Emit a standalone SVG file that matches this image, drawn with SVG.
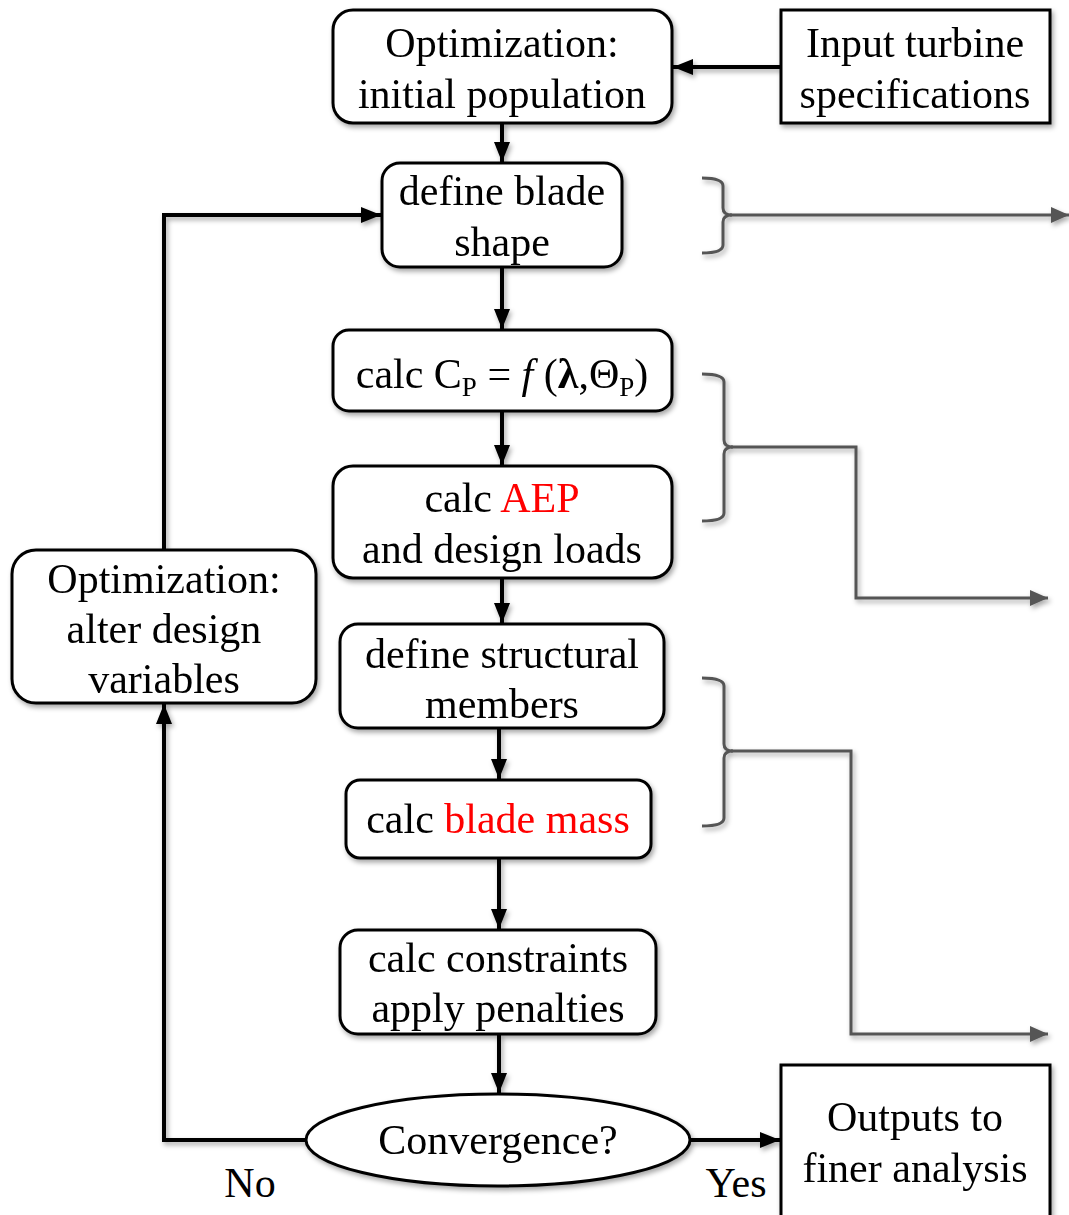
<svg xmlns="http://www.w3.org/2000/svg" width="1069" height="1215" viewBox="0 0 1069 1215">
<style>
  .box { fill: #fff; stroke: #000; stroke-width: 3; }
  .t { font-family: "Liberation Serif", "Times New Roman", serif; font-size: 42px; fill: #000; text-anchor: middle; }
  .red { fill: #ff0000; }
  .sub { font-size: 27px; }
  .conn { fill: none; stroke: #000; stroke-width: 4; }
  .brace { fill: none; stroke: #555; stroke-width: 3; }
</style>
<defs>
  <filter id="sh" x="-10%" y="-10%" width="130%" height="140%">
    <feDropShadow dx="2" dy="3" stdDeviation="2.5" flood-color="#000" flood-opacity="0.35"/>
  </filter>
  <marker id="ah" markerUnits="userSpaceOnUse" markerWidth="22" markerHeight="20" refX="20" refY="10" orient="auto">
    <path d="M0,2 L20,10 L0,18 Z" fill="#000"/>
  </marker>
  <marker id="ahg" markerUnits="userSpaceOnUse" markerWidth="20" markerHeight="18" refX="18" refY="9" orient="auto">
    <path d="M0,1 L18,9 L0,17 Z" fill="#555"/>
  </marker>
</defs>
<rect width="1069" height="1215" fill="#fff"/>

<g id="connectors" filter="url(#sh)">
  <path class="conn" d="M781,67 L673,67" marker-end="url(#ah)"/>
  <path class="conn" d="M502,123 L502,162" marker-end="url(#ah)"/>
  <path class="conn" d="M502,267 L502,329" marker-end="url(#ah)"/>
  <path class="conn" d="M502,411 L502,465" marker-end="url(#ah)"/>
  <path class="conn" d="M502,578 L502,623" marker-end="url(#ah)"/>
  <path class="conn" d="M499,728 L499,779" marker-end="url(#ah)"/>
  <path class="conn" d="M499,858 L499,929" marker-end="url(#ah)"/>
  <path class="conn" d="M499,1034 L499,1093" marker-end="url(#ah)"/>
  <path class="conn" d="M306,1140 L164,1140 L164,704" marker-end="url(#ah)"/>
  <path class="conn" d="M164,550 L164,215 L381,215" marker-end="url(#ah)"/>
  <path class="conn" d="M690,1140 L780,1140" marker-end="url(#ah)"/>
  <path class="brace" d="M702,178 Q723,178 723,186 L723,208 Q723,215 732,215 Q723,215 723,222 L723,245 Q723,253 702,253"/>
  <path class="brace" d="M730,215 L1069,215" marker-end="url(#ahg)"/>
  <path class="brace" d="M702,374 Q724,374 724,382 L724,440 Q724,447 733,447 Q724,447 724,454 L724,513 Q724,521 702,521"/>
  <path class="brace" d="M731,447 L856,447 L856,598 L1048,598" marker-end="url(#ahg)"/>
  <path class="brace" d="M702,678 Q724,678 724,686 L724,744 Q724,751 733,751 Q724,751 724,758 L724,818 Q724,826 702,826"/>
  <path class="brace" d="M731,751 L851,751 L851,1034 L1048,1034" marker-end="url(#ahg)"/>
</g>

<g id="n-init" filter="url(#sh)">
  <rect class="box" x="333" y="10" width="339" height="113" rx="20"/>
  <text class="t" x="502" y="57">Optimization:</text>
  <text class="t" x="502" y="108">initial population</text>
</g>
<g id="n-input" filter="url(#sh)">
  <rect class="box" x="781" y="10" width="269" height="113"/>
  <text class="t" x="915" y="57">Input turbine</text>
  <text class="t" x="915" y="108">specifications</text>
</g>
<g id="n-shape" filter="url(#sh)">
  <rect class="box" x="382" y="163" width="240" height="104" rx="18"/>
  <text class="t" x="502" y="205">define blade</text>
  <text class="t" x="502" y="256">shape</text>
</g>
<g id="n-cp" filter="url(#sh)">
  <rect class="box" x="333" y="330" width="339" height="81" rx="16"/>
  <text class="t" x="502" y="388">calc C<tspan class="sub" dy="8">P</tspan><tspan dy="-8"> = </tspan><tspan font-style="italic">f</tspan> (<tspan font-weight="bold">λ</tspan>,Θ<tspan class="sub" dy="8">P</tspan><tspan dy="-8">)</tspan></text>
</g>
<g id="n-aep" filter="url(#sh)">
  <rect class="box" x="333" y="466" width="339" height="112" rx="20"/>
  <text class="t" x="502" y="512">calc <tspan class="red">AEP</tspan></text>
  <text class="t" x="502" y="563">and design loads</text>
</g>
<g id="n-struct" filter="url(#sh)">
  <rect class="box" x="340" y="624" width="324" height="104" rx="18"/>
  <text class="t" x="502" y="668">define structural</text>
  <text class="t" x="502" y="718">members</text>
</g>
<g id="n-mass" filter="url(#sh)">
  <rect class="box" x="346" y="780" width="305" height="78" rx="14"/>
  <text class="t" x="498" y="833">calc <tspan class="red">blade mass</tspan></text>
</g>
<g id="n-constr" filter="url(#sh)">
  <rect class="box" x="340" y="930" width="316" height="104" rx="18"/>
  <text class="t" x="498" y="972">calc constraints</text>
  <text class="t" x="498" y="1022">apply penalties</text>
</g>
<g id="n-conv" filter="url(#sh)">
  <ellipse class="box" cx="498" cy="1140" rx="192" ry="46"/>
  <text class="t" x="498" y="1154">Convergence?</text>
</g>
<g id="n-alter" filter="url(#sh)">
  <rect class="box" x="12" y="550" width="304" height="153" rx="24"/>
  <text class="t" x="164" y="593">Optimization:</text>
  <text class="t" x="164" y="643">alter design</text>
  <text class="t" x="164" y="693">variables</text>
</g>
<g id="n-out" filter="url(#sh)">
  <rect class="box" x="781" y="1065" width="269" height="170"/>
  <text class="t" x="915" y="1131">Outputs to</text>
  <text class="t" x="915" y="1182">finer analysis</text>
</g>
<g id="labels">
  <text class="t" x="250" y="1197">No</text>
  <text class="t" x="736" y="1197">Yes</text>
</g>
</svg>
